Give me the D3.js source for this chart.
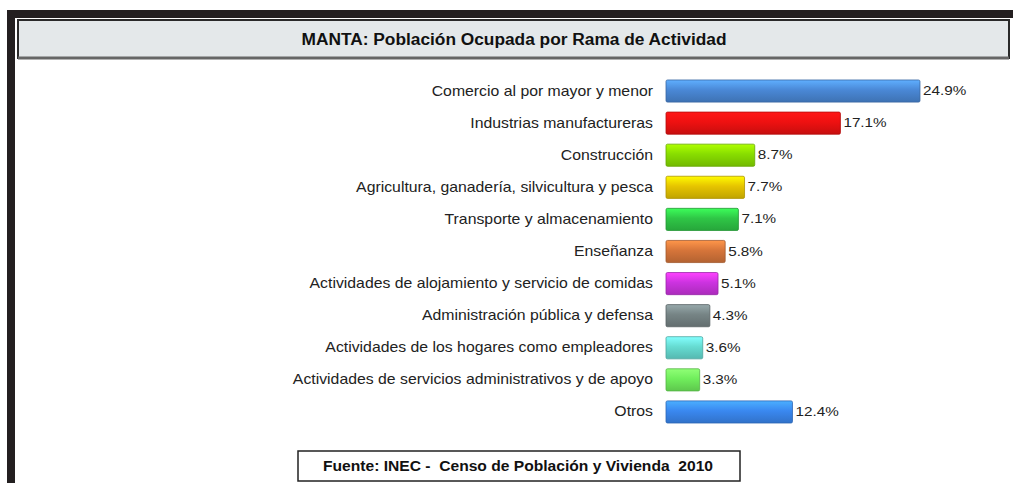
<!DOCTYPE html>
<html>
<head>
<meta charset="utf-8">
<script src="https://cdn.jsdelivr.net/npm/d3@7"></script>
<style>
    body { margin: 0; background: #fff; }
    svg { display: block; font-family: "Liberation Sans", Arial, sans-serif; }
</style>
</head>
<body>
<svg width="1013" height="483"></svg>
<script>
// datos: rama de actividad y porcentaje
let categorias = [
    "Comercio al por mayor y menor",
    "Industrias manufactureras",
    "Construcción",
    "Agricultura, ganadería, silvicultura y pesca",
    "Transporte y almacenamiento",
    "Enseñanza",
    "Actividades de alojamiento y servicio de comidas",
    "Administración pública y defensa",
    "Actividades de los hogares como empleadores",
    "Actividades de servicios administrativos y de apoyo",
    "Otros"
];
let valores = [24.9, 17.1, 8.7, 7.7, 7.1, 5.8, 5.1, 4.3, 3.6, 3.3, 12.4];
let colores = ["#4a88d6", "#ee1111", "#88dd00", "#e6c400", "#2fc646", "#d6753a",
    "#cc33e0", "#768485", "#66dcd2", "#70ee5c", "#3a88f0"];

let titulo = "MANTA: Población Ocupada por Rama de Actividad";
let fuente = "Fuente: INEC -  Censo de Población y Vivienda  2010";

let svg = d3.select('svg');
let stretch = 1.13; // el texto original aparece algo ensanchado

// marco exterior
svg.append('rect').attr('x', 7).attr('y', 10).attr('width', 1006).attr('height', 8).style('fill', '#231f20');
svg.append('rect').attr('x', 7).attr('y', 10).attr('width', 8).attr('height', 473).style('fill', '#231f20');

// caja del titulo
svg.append('rect')
    .attr('x', 18).attr('y', 20).attr('width', 991).attr('height', 38)
    .style('fill', '#e4e8ea')
    .style('stroke', '#2a2a2a')
    .style('stroke-width', 2);
svg.append('line')
    .attr('x1', 18).attr('x2', 1009).attr('y1', 58).attr('y2', 58)
    .style('stroke', '#666').style('stroke-width', 3);
svg.append('text')
    .attr('x', 514).attr('y', 45)
    .attr('text-anchor', 'middle')
    .attr('textLength', 425)
    .attr('lengthAdjust', 'spacingAndGlyphs')
    .style('font-size', '16px')
    .style('font-weight', 'bold')
    .style('fill', '#111')
    .text(titulo);

// escalas
let xScale = d3.scaleLinear()
    .domain([0, 25])
    .range([666, 921]);

let yScale = d3.scaleBand()
    .domain(categorias)
    .range([75, 428])
    .paddingInner(0.31)
    .paddingOuter(0.155);

// gradientes
let defs = svg.append('defs');
colores.forEach((c, i) => {
    let grad = defs.append('linearGradient')
        .attr('id', 'grad' + i)
        .attr('x1', 0).attr('y1', 0).attr('x2', 0).attr('y2', 1);
    grad.append('stop').attr('offset', '0%').attr('stop-color', d3.color(c).brighter(0.7));
    grad.append('stop').attr('offset', '45%').attr('stop-color', c);
    grad.append('stop').attr('offset', '100%').attr('stop-color', d3.color(c).darker(0.5));
});

// eje de categorias
let yAxis = d3.axisLeft(yScale).tickSize(0).tickPadding(13);
let gy = svg.append('g')
    .attr('class', 'y-axis')
    .attr('transform', 'translate(' + xScale(0) + ',0)')
    .call(yAxis);
gy.select('.domain').remove();
gy.selectAll('text')
    .attr('x', -13 / stretch)
    .attr('transform', 'scale(' + stretch + ',1)')
    .style('font-size', '14px')
    .style('font-family', '"Liberation Sans", Arial, sans-serif')
    .style('fill', '#222');

let filas = categorias.map((c, i) => ({ cat: c, val: valores[i], i: i }));

// barras
svg.selectAll('.bar').data(filas)
    .enter().append('rect')
    .attr('class', 'bar')
    .attr('x', xScale(0))
    .attr('y', d => yScale(d.cat))
    .attr('width', d => xScale(d.val) - xScale(0))
    .attr('height', yScale.bandwidth())
    .attr('rx', 1.5)
    .style('fill', d => 'url(#grad' + d.i + ')')
    .style('stroke', d => d3.color(colores[d.i]).darker(0.8))
    .style('stroke-width', 0.8);

// valores
svg.selectAll('.valor').data(filas)
    .enter().append('text')
    .attr('class', 'valor')
    .attr('transform', d => 'translate(' + (xScale(d.val) + 3) + ',' + (yScale(d.cat) + yScale.bandwidth() / 2) + ') scale(' + stretch + ',1)')
    .attr('dy', '0.3em')
    .style('font-size', '13.5px')
    .style('fill', '#222')
    .text(d => d.val.toFixed(1) + '%');

// fuente
svg.append('rect')
    .attr('x', 298).attr('y', 451).attr('width', 442).attr('height', 30)
    .style('fill', '#fff')
    .style('stroke', '#222')
    .style('stroke-width', 1.5);
svg.append('text')
    .attr('x', 518).attr('y', 471)
    .attr('text-anchor', 'middle')
    .attr('textLength', 390)
    .attr('lengthAdjust', 'spacingAndGlyphs')
    .style('font-size', '14px')
    .style('font-weight', 'bold')
    .style('fill', '#111')
    .style('white-space', 'pre')
    .text(fuente);
</script>
</body>
</html>
